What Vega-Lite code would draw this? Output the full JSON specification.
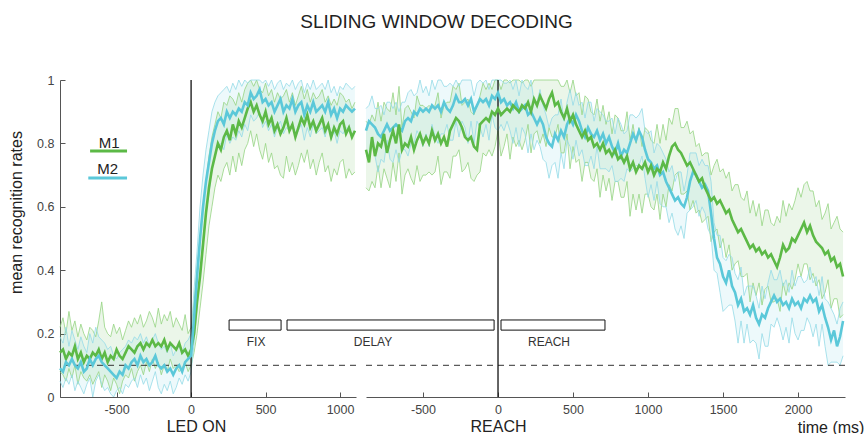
{
"$schema": "https://vega.github.io/schema/vega-lite/v6.json",
"padding": {"left": 8, "top": 13, "right": 5, "bottom": 0},
"title": {"text": "SLIDING WINDOW DECODING", "fontSize": 19, "fontWeight": "normal", "color": "#222222", "font": "Liberation Sans", "offset": 42, "anchor": "middle"},
"config": {
  "font": "Liberation Sans",
  "view": {"stroke": null},
  "axis": {"grid": false, "domainColor": "#555555", "tickColor": "#555555", "labelColor": "#444444", "labelFontSize": 12.5, "titleFontSize": 16, "titleFontWeight": "normal", "titleColor": "#222222", "tickSize": -5, "labelPadding": 11, "domainWidth": 1, "tickWidth": 1}
},
"bounds": "flush",
"spacing": 10,
"resolve": {"scale": {"x": "independent", "y": "independent"}},
"datasets": {
"L": [
{"t":-880,"a":0.14,"al":0.08,"ah":0.22,"b":0.09,"bl":0.05,"bh":0.19},
{"t":-860,"a":0.15,"al":0.07,"ah":0.25,"b":0.08,"bl":0.03,"bh":0.17},
{"t":-840,"a":0.12,"al":0.05,"ah":0.20,"b":0.11,"bl":0.06,"bh":0.22},
{"t":-820,"a":0.14,"al":0.09,"ah":0.27,"b":0.10,"bl":0.04,"bh":0.16},
{"t":-800,"a":0.13,"al":0.06,"ah":0.21,"b":0.12,"bl":0.07,"bh":0.21},
{"t":-780,"a":0.16,"al":0.10,"ah":0.24,"b":0.10,"bl":0.02,"bh":0.18},
{"t":-760,"a":0.12,"al":0.04,"ah":0.19,"b":0.09,"bl":0.05,"bh":0.15},
{"t":-740,"a":0.14,"al":0.08,"ah":0.23,"b":0.11,"bl":0.03,"bh":0.19},
{"t":-720,"a":0.11,"al":0.06,"ah":0.20,"b":0.08,"bl":0.01,"bh":0.16},
{"t":-700,"a":0.13,"al":0.05,"ah":0.18,"b":0.09,"bl":0.04,"bh":0.14},
{"t":-680,"a":0.12,"al":0.07,"ah":0.22,"b":0.12,"bl":0.06,"bh":0.20},
{"t":-660,"a":0.14,"al":0.04,"ah":0.21,"b":0.10,"bl":0.00,"bh":0.17},
{"t":-640,"a":0.13,"al":0.06,"ah":0.19,"b":0.12,"bl":0.05,"bh":0.22},
{"t":-620,"a":0.15,"al":0.08,"ah":0.24,"b":0.13,"bl":0.07,"bh":0.19},
{"t":-600,"a":0.12,"al":0.03,"ah":0.30,"b":0.11,"bl":0.04,"bh":0.18},
{"t":-580,"a":0.14,"al":0.07,"ah":0.22,"b":0.10,"bl":0.02,"bh":0.17},
{"t":-560,"a":0.11,"al":0.05,"ah":0.20,"b":0.09,"bl":0.03,"bh":0.15},
{"t":-540,"a":0.13,"al":0.02,"ah":0.19,"b":0.08,"bl":0.01,"bh":0.16},
{"t":-520,"a":0.12,"al":0.06,"ah":0.23,"b":0.07,"bl":0.00,"bh":0.13},
{"t":-500,"a":0.15,"al":0.04,"ah":0.20,"b":0.06,"bl":0.02,"bh":0.12},
{"t":-480,"a":0.13,"al":0.01,"ah":0.22,"b":0.08,"bl":0.03,"bh":0.14},
{"t":-460,"a":0.12,"al":0.05,"ah":0.18,"b":0.07,"bl":0.01,"bh":0.15},
{"t":-440,"a":0.14,"al":0.07,"ah":0.21,"b":0.10,"bl":0.04,"bh":0.16},
{"t":-420,"a":0.16,"al":0.06,"ah":0.24,"b":0.09,"bl":0.03,"bh":0.18},
{"t":-400,"a":0.15,"al":0.09,"ah":0.22,"b":0.11,"bl":0.05,"bh":0.17},
{"t":-380,"a":0.14,"al":0.05,"ah":0.25,"b":0.12,"bl":0.06,"bh":0.19},
{"t":-360,"a":0.16,"al":0.08,"ah":0.23,"b":0.10,"bl":0.03,"bh":0.18},
{"t":-340,"a":0.17,"al":0.10,"ah":0.26,"b":0.13,"bl":0.07,"bh":0.20},
{"t":-320,"a":0.15,"al":0.07,"ah":0.22,"b":0.11,"bl":0.04,"bh":0.17},
{"t":-300,"a":0.17,"al":0.11,"ah":0.24,"b":0.12,"bl":0.06,"bh":0.19},
{"t":-280,"a":0.16,"al":0.08,"ah":0.27,"b":0.10,"bl":0.02,"bh":0.16},
{"t":-260,"a":0.18,"al":0.12,"ah":0.25,"b":0.11,"bl":0.05,"bh":0.18},
{"t":-240,"a":0.16,"al":0.09,"ah":0.22,"b":0.13,"bl":0.08,"bh":0.20},
{"t":-220,"a":0.17,"al":0.11,"ah":0.28,"b":0.10,"bl":0.03,"bh":0.17},
{"t":-200,"a":0.16,"al":0.07,"ah":0.23,"b":0.09,"bl":0.01,"bh":0.15},
{"t":-180,"a":0.18,"al":0.10,"ah":0.26,"b":0.10,"bl":0.04,"bh":0.16},
{"t":-160,"a":0.15,"al":0.08,"ah":0.24,"b":0.08,"bl":0.02,"bh":0.14},
{"t":-140,"a":0.17,"al":0.12,"ah":0.27,"b":0.09,"bl":0.05,"bh":0.17},
{"t":-120,"a":0.16,"al":0.09,"ah":0.22,"b":0.07,"bl":0.01,"bh":0.13},
{"t":-100,"a":0.15,"al":0.10,"ah":0.25,"b":0.09,"bl":0.03,"bh":0.15},
{"t":-80,"a":0.17,"al":0.08,"ah":0.23,"b":0.10,"bl":0.06,"bh":0.16},
{"t":-60,"a":0.14,"al":0.09,"ah":0.21,"b":0.08,"bl":0.04,"bh":0.14},
{"t":-40,"a":0.15,"al":0.11,"ah":0.26,"b":0.11,"bl":0.07,"bh":0.17},
{"t":-20,"a":0.13,"al":0.08,"ah":0.20,"b":0.12,"bl":0.05,"bh":0.18},
{"t":0,"a":0.15,"al":0.10,"ah":0.22,"b":0.13,"bl":0.08,"bh":0.20},
{"t":20,"a":0.20,"al":0.14,"ah":0.30,"b":0.25,"bl":0.17,"bh":0.34},
{"t":40,"a":0.30,"al":0.20,"ah":0.40,"b":0.38,"bl":0.28,"bh":0.46},
{"t":60,"a":0.38,"al":0.28,"ah":0.50,"b":0.50,"bl":0.40,"bh":0.60},
{"t":80,"a":0.48,"al":0.36,"ah":0.60,"b":0.60,"bl":0.50,"bh":0.70},
{"t":100,"a":0.58,"al":0.45,"ah":0.68,"b":0.68,"bl":0.58,"bh":0.78},
{"t":120,"a":0.66,"al":0.54,"ah":0.76,"b":0.74,"bl":0.64,"bh":0.84},
{"t":140,"a":0.72,"al":0.60,"ah":0.82,"b":0.80,"bl":0.72,"bh":0.90},
{"t":160,"a":0.76,"al":0.66,"ah":0.86,"b":0.84,"bl":0.76,"bh":0.93},
{"t":180,"a":0.80,"al":0.70,"ah":0.90,"b":0.87,"bl":0.79,"bh":0.95},
{"t":200,"a":0.78,"al":0.68,"ah":0.88,"b":0.88,"bl":0.80,"bh":0.96},
{"t":220,"a":0.82,"al":0.72,"ah":0.93,"b":0.86,"bl":0.78,"bh":0.97},
{"t":240,"a":0.84,"al":0.74,"ah":0.92,"b":0.90,"bl":0.83,"bh":0.98},
{"t":260,"a":0.81,"al":0.70,"ah":0.95,"b":0.88,"bl":0.80,"bh":0.96},
{"t":280,"a":0.86,"al":0.76,"ah":0.94,"b":0.90,"bl":0.82,"bh":0.99},
{"t":300,"a":0.83,"al":0.71,"ah":0.92,"b":0.89,"bl":0.81,"bh":0.97},
{"t":320,"a":0.87,"al":0.77,"ah":0.96,"b":0.91,"bl":0.84,"bh":1.0},
{"t":340,"a":0.85,"al":0.73,"ah":0.93,"b":0.90,"bl":0.82,"bh":0.98},
{"t":360,"a":0.88,"al":0.78,"ah":0.97,"b":0.93,"bl":0.86,"bh":1.0},
{"t":380,"a":0.91,"al":0.80,"ah":0.99,"b":0.92,"bl":0.84,"bh":0.99},
{"t":400,"a":0.93,"al":0.84,"ah":1.0,"b":0.96,"bl":0.89,"bh":1.0},
{"t":420,"a":0.90,"al":0.79,"ah":0.98,"b":0.94,"bl":0.87,"bh":1.0},
{"t":440,"a":0.92,"al":0.83,"ah":1.0,"b":0.95,"bl":0.88,"bh":1.0},
{"t":460,"a":0.89,"al":0.78,"ah":0.97,"b":0.97,"bl":0.90,"bh":1.0},
{"t":480,"a":0.87,"al":0.75,"ah":0.96,"b":0.93,"bl":0.85,"bh":0.99},
{"t":500,"a":0.90,"al":0.80,"ah":0.99,"b":0.94,"bl":0.87,"bh":1.0},
{"t":520,"a":0.86,"al":0.74,"ah":0.95,"b":0.92,"bl":0.84,"bh":0.98},
{"t":540,"a":0.88,"al":0.77,"ah":0.97,"b":0.93,"bl":0.86,"bh":1.0},
{"t":560,"a":0.84,"al":0.72,"ah":0.93,"b":0.90,"bl":0.82,"bh":0.97},
{"t":580,"a":0.86,"al":0.73,"ah":0.96,"b":0.92,"bl":0.85,"bh":0.99},
{"t":600,"a":0.83,"al":0.70,"ah":0.94,"b":0.94,"bl":0.87,"bh":1.0},
{"t":620,"a":0.85,"al":0.69,"ah":0.95,"b":0.90,"bl":0.83,"bh":0.97},
{"t":640,"a":0.88,"al":0.76,"ah":0.97,"b":0.92,"bl":0.85,"bh":0.99},
{"t":660,"a":0.84,"al":0.71,"ah":0.93,"b":0.91,"bl":0.84,"bh":0.98},
{"t":680,"a":0.86,"al":0.74,"ah":0.96,"b":0.94,"bl":0.86,"bh":1.0},
{"t":700,"a":0.82,"al":0.70,"ah":0.92,"b":0.90,"bl":0.82,"bh":0.97},
{"t":720,"a":0.85,"al":0.73,"ah":0.95,"b":0.92,"bl":0.84,"bh":0.99},
{"t":740,"a":0.88,"al":0.77,"ah":0.98,"b":0.93,"bl":0.86,"bh":1.0},
{"t":760,"a":0.86,"al":0.74,"ah":0.94,"b":0.89,"bl":0.81,"bh":0.96},
{"t":780,"a":0.89,"al":0.78,"ah":0.97,"b":0.92,"bl":0.85,"bh":0.99},
{"t":800,"a":0.85,"al":0.72,"ah":0.93,"b":0.90,"bl":0.82,"bh":0.97},
{"t":820,"a":0.87,"al":0.75,"ah":0.96,"b":0.93,"bl":0.86,"bh":1.0},
{"t":840,"a":0.84,"al":0.70,"ah":0.94,"b":0.90,"bl":0.83,"bh":0.97},
{"t":860,"a":0.86,"al":0.74,"ah":0.95,"b":0.91,"bl":0.84,"bh":0.98},
{"t":880,"a":0.88,"al":0.77,"ah":0.97,"b":0.92,"bl":0.85,"bh":0.99},
{"t":900,"a":0.84,"al":0.71,"ah":0.93,"b":0.90,"bl":0.82,"bh":0.97},
{"t":920,"a":0.86,"al":0.73,"ah":0.95,"b":0.93,"bl":0.86,"bh":1.0},
{"t":940,"a":0.82,"al":0.68,"ah":0.92,"b":0.89,"bl":0.81,"bh":0.96},
{"t":960,"a":0.85,"al":0.72,"ah":0.94,"b":0.91,"bl":0.84,"bh":0.98},
{"t":980,"a":0.83,"al":0.70,"ah":0.92,"b":0.88,"bl":0.80,"bh":0.95},
{"t":1000,"a":0.86,"al":0.74,"ah":0.96,"b":0.91,"bl":0.84,"bh":0.98},
{"t":1020,"a":0.87,"al":0.75,"ah":0.95,"b":0.90,"bl":0.83,"bh":0.97},
{"t":1040,"a":0.83,"al":0.69,"ah":0.93,"b":0.92,"bl":0.85,"bh":0.99},
{"t":1060,"a":0.85,"al":0.72,"ah":0.94,"b":0.91,"bl":0.84,"bh":0.98},
{"t":1080,"a":0.82,"al":0.70,"ah":0.91,"b":0.90,"bl":0.82,"bh":0.97},
{"t":1100,"a":0.84,"al":0.71,"ah":0.93,"b":0.91,"bl":0.84,"bh":0.98}
],
"R": [
{"t":-880,"a":0.78,"al":0.66,"ah":0.87,"b":0.84,"bl":0.76,"bh":0.91},
{"t":-860,"a":0.74,"al":0.65,"ah":0.86,"b":0.87,"bl":0.76,"bh":0.92},
{"t":-840,"a":0.82,"al":0.68,"ah":0.89,"b":0.86,"bl":0.80,"bh":0.95},
{"t":-820,"a":0.76,"al":0.66,"ah":0.87,"b":0.85,"bl":0.76,"bh":0.91},
{"t":-800,"a":0.80,"al":0.73,"ah":0.93,"b":0.83,"bl":0.71,"bh":0.91},
{"t":-780,"a":0.79,"al":0.66,"ah":0.87,"b":0.82,"bl":0.75,"bh":0.92},
{"t":-760,"a":0.83,"al":0.72,"ah":0.93,"b":0.84,"bl":0.74,"bh":0.89},
{"t":-740,"a":0.77,"al":0.69,"ah":0.91,"b":0.86,"bl":0.81,"bh":0.93},
{"t":-720,"a":0.81,"al":0.66,"ah":0.90,"b":0.84,"bl":0.75,"bh":0.93},
{"t":-700,"a":0.84,"al":0.74,"ah":0.96,"b":0.85,"bl":0.74,"bh":0.91},
{"t":-680,"a":0.80,"al":0.68,"ah":0.89,"b":0.86,"bl":0.78,"bh":0.93},
{"t":-660,"a":0.86,"al":0.77,"ah":0.98,"b":0.85,"bl":0.74,"bh":0.90},
{"t":-640,"a":0.78,"al":0.64,"ah":0.85,"b":0.84,"bl":0.78,"bh":0.93},
{"t":-620,"a":0.80,"al":0.70,"ah":0.91,"b":0.87,"bl":0.78,"bh":0.93},
{"t":-600,"a":0.79,"al":0.72,"ah":0.92,"b":0.88,"bl":0.76,"bh":0.96},
{"t":-580,"a":0.82,"al":0.69,"ah":0.90,"b":0.87,"bl":0.80,"bh":0.97},
{"t":-560,"a":0.78,"al":0.67,"ah":0.88,"b":0.90,"bl":0.80,"bh":0.95},
{"t":-540,"a":0.81,"al":0.73,"ah":0.95,"b":0.89,"bl":0.84,"bh":0.96},
{"t":-520,"a":0.83,"al":0.68,"ah":0.92,"b":0.91,"bl":0.82,"bh":1.0},
{"t":-500,"a":0.80,"al":0.70,"ah":0.92,"b":0.90,"bl":0.79,"bh":0.96},
{"t":-480,"a":0.82,"al":0.70,"ah":0.91,"b":0.91,"bl":0.83,"bh":0.98},
{"t":-460,"a":0.80,"al":0.71,"ah":0.92,"b":0.90,"bl":0.79,"bh":0.95},
{"t":-440,"a":0.84,"al":0.70,"ah":0.91,"b":0.92,"bl":0.86,"bh":1.0},
{"t":-420,"a":0.81,"al":0.71,"ah":0.92,"b":0.91,"bl":0.82,"bh":0.97},
{"t":-400,"a":0.83,"al":0.76,"ah":0.96,"b":0.92,"bl":0.80,"bh":1.0},
{"t":-380,"a":0.80,"al":0.67,"ah":0.88,"b":0.90,"bl":0.83,"bh":1.0},
{"t":-360,"a":0.82,"al":0.71,"ah":0.92,"b":0.93,"bl":0.83,"bh":0.98},
{"t":-340,"a":0.79,"al":0.71,"ah":0.93,"b":0.91,"bl":0.86,"bh":0.98},
{"t":-320,"a":0.84,"al":0.69,"ah":0.93,"b":0.90,"bl":0.81,"bh":0.99},
{"t":-300,"a":0.86,"al":0.76,"ah":0.98,"b":0.92,"bl":0.81,"bh":0.98},
{"t":-280,"a":0.88,"al":0.76,"ah":0.97,"b":0.95,"bl":0.87,"bh":1.0},
{"t":-260,"a":0.87,"al":0.78,"ah":0.99,"b":0.93,"bl":0.82,"bh":0.98},
{"t":-240,"a":0.85,"al":0.71,"ah":0.92,"b":0.93,"bl":0.87,"bh":1.0},
{"t":-220,"a":0.82,"al":0.72,"ah":0.93,"b":0.94,"bl":0.85,"bh":1.0},
{"t":-200,"a":0.81,"al":0.74,"ah":0.94,"b":0.92,"bl":0.80,"bh":1.0},
{"t":-180,"a":0.82,"al":0.69,"ah":0.90,"b":0.94,"bl":0.87,"bh":1.0},
{"t":-160,"a":0.79,"al":0.68,"ah":0.89,"b":0.90,"bl":0.80,"bh":0.95},
{"t":-140,"a":0.78,"al":0.70,"ah":0.92,"b":0.92,"bl":0.87,"bh":0.99},
{"t":-120,"a":0.86,"al":0.71,"ah":0.95,"b":0.94,"bl":0.85,"bh":1.0},
{"t":-100,"a":0.87,"al":0.77,"ah":0.99,"b":0.93,"bl":0.82,"bh":0.99},
{"t":-80,"a":0.88,"al":0.76,"ah":0.97,"b":0.94,"bl":0.86,"bh":1.0},
{"t":-60,"a":0.87,"al":0.78,"ah":0.99,"b":0.92,"bl":0.81,"bh":0.97},
{"t":-40,"a":0.90,"al":0.76,"ah":0.97,"b":0.95,"bl":0.89,"bh":1.0},
{"t":-20,"a":0.89,"al":0.79,"ah":1.0,"b":0.94,"bl":0.85,"bh":1.0},
{"t":0,"a":0.91,"al":0.84,"ah":1.0,"b":0.96,"bl":0.84,"bh":1.0},
{"t":20,"a":0.89,"al":0.76,"ah":0.97,"b":0.93,"bl":0.86,"bh":1.0},
{"t":40,"a":0.90,"al":0.79,"ah":1.0,"b":0.94,"bl":0.84,"bh":0.99},
{"t":60,"a":0.91,"al":0.83,"ah":1.0,"b":0.92,"bl":0.87,"bh":0.99},
{"t":80,"a":0.90,"al":0.75,"ah":0.99,"b":0.93,"bl":0.84,"bh":1.0},
{"t":100,"a":0.92,"al":0.82,"ah":1.0,"b":0.91,"bl":0.80,"bh":0.97},
{"t":120,"a":0.91,"al":0.79,"ah":1.0,"b":0.93,"bl":0.85,"bh":1.0},
{"t":140,"a":0.90,"al":0.81,"ah":1.0,"b":0.90,"bl":0.79,"bh":0.95},
{"t":160,"a":0.92,"al":0.78,"ah":0.99,"b":0.91,"bl":0.85,"bh":1.0},
{"t":180,"a":0.91,"al":0.81,"ah":1.0,"b":0.92,"bl":0.83,"bh":0.98},
{"t":200,"a":0.93,"al":0.86,"ah":1.0,"b":0.89,"bl":0.77,"bh":0.97},
{"t":220,"a":0.90,"al":0.77,"ah":0.98,"b":0.90,"bl":0.83,"bh":1.0},
{"t":240,"a":0.94,"al":0.83,"ah":1.0,"b":0.88,"bl":0.78,"bh":0.93},
{"t":260,"a":0.92,"al":0.84,"ah":1.0,"b":0.86,"bl":0.81,"bh":0.93},
{"t":280,"a":0.95,"al":0.80,"ah":1.0,"b":0.88,"bl":0.79,"bh":0.97},
{"t":300,"a":0.93,"al":0.83,"ah":1.0,"b":0.86,"bl":0.75,"bh":0.92},
{"t":320,"a":0.91,"al":0.79,"ah":1.0,"b":0.82,"bl":0.74,"bh":0.89},
{"t":340,"a":0.94,"al":0.85,"ah":1.0,"b":0.80,"bl":0.69,"bh":0.85},
{"t":360,"a":0.96,"al":0.82,"ah":1.0,"b":0.79,"bl":0.73,"bh":0.88},
{"t":380,"a":0.92,"al":0.82,"ah":1.0,"b":0.83,"bl":0.74,"bh":0.89},
{"t":400,"a":0.93,"al":0.86,"ah":1.0,"b":0.81,"bl":0.69,"bh":0.89},
{"t":420,"a":0.90,"al":0.77,"ah":0.98,"b":0.84,"bl":0.77,"bh":0.94},
{"t":440,"a":0.88,"al":0.77,"ah":0.98,"b":0.82,"bl":0.72,"bh":0.87},
{"t":460,"a":0.91,"al":0.83,"ah":1.0,"b":0.86,"bl":0.81,"bh":0.93},
{"t":480,"a":0.87,"al":0.72,"ah":0.96,"b":0.88,"bl":0.79,"bh":0.97},
{"t":500,"a":0.89,"al":0.79,"ah":1.0,"b":0.86,"bl":0.75,"bh":0.92},
{"t":520,"a":0.86,"al":0.74,"ah":0.95,"b":0.89,"bl":0.81,"bh":0.96},
{"t":540,"a":0.84,"al":0.75,"ah":0.96,"b":0.87,"bl":0.76,"bh":0.92},
{"t":560,"a":0.82,"al":0.68,"ah":0.89,"b":0.84,"bl":0.78,"bh":0.93},
{"t":580,"a":0.84,"al":0.74,"ah":0.95,"b":0.82,"bl":0.73,"bh":0.88},
{"t":600,"a":0.81,"al":0.74,"ah":0.94,"b":0.85,"bl":0.73,"bh":0.93},
{"t":620,"a":0.82,"al":0.69,"ah":0.90,"b":0.83,"bl":0.76,"bh":0.93},
{"t":640,"a":0.79,"al":0.68,"ah":0.89,"b":0.82,"bl":0.72,"bh":0.87},
{"t":660,"a":0.80,"al":0.72,"ah":0.94,"b":0.84,"bl":0.79,"bh":0.91},
{"t":680,"a":0.78,"al":0.63,"ah":0.87,"b":0.81,"bl":0.72,"bh":0.90},
{"t":700,"a":0.80,"al":0.70,"ah":0.92,"b":0.83,"bl":0.72,"bh":0.89},
{"t":720,"a":0.77,"al":0.65,"ah":0.86,"b":0.80,"bl":0.72,"bh":0.87},
{"t":740,"a":0.78,"al":0.69,"ah":0.90,"b":0.82,"bl":0.71,"bh":0.87},
{"t":760,"a":0.76,"al":0.62,"ah":0.83,"b":0.79,"bl":0.73,"bh":0.88},
{"t":780,"a":0.78,"al":0.68,"ah":0.89,"b":0.77,"bl":0.68,"bh":0.83},
{"t":800,"a":0.75,"al":0.68,"ah":0.88,"b":0.80,"bl":0.68,"bh":0.88},
{"t":820,"a":0.76,"al":0.63,"ah":0.84,"b":0.76,"bl":0.69,"bh":0.86},
{"t":840,"a":0.74,"al":0.63,"ah":0.84,"b":0.78,"bl":0.68,"bh":0.83},
{"t":860,"a":0.76,"al":0.68,"ah":0.90,"b":0.77,"bl":0.72,"bh":0.84},
{"t":880,"a":0.72,"al":0.57,"ah":0.81,"b":0.80,"bl":0.71,"bh":0.89},
{"t":900,"a":0.74,"al":0.64,"ah":0.86,"b":0.83,"bl":0.72,"bh":0.89},
{"t":920,"a":0.71,"al":0.59,"ah":0.80,"b":0.81,"bl":0.73,"bh":0.88},
{"t":940,"a":0.73,"al":0.64,"ah":0.85,"b":0.84,"bl":0.73,"bh":0.89},
{"t":960,"a":0.72,"al":0.58,"ah":0.79,"b":0.82,"bl":0.76,"bh":0.91},
{"t":980,"a":0.74,"al":0.64,"ah":0.85,"b":0.78,"bl":0.69,"bh":0.84},
{"t":1000,"a":0.71,"al":0.64,"ah":0.84,"b":0.75,"bl":0.63,"bh":0.83},
{"t":1020,"a":0.73,"al":0.60,"ah":0.81,"b":0.74,"bl":0.67,"bh":0.84},
{"t":1040,"a":0.70,"al":0.59,"ah":0.80,"b":0.72,"bl":0.62,"bh":0.77},
{"t":1060,"a":0.72,"al":0.64,"ah":0.86,"b":0.73,"bl":0.68,"bh":0.80},
{"t":1080,"a":0.71,"al":0.56,"ah":0.80,"b":0.70,"bl":0.61,"bh":0.79},
{"t":1100,"a":0.74,"al":0.64,"ah":0.86,"b":0.71,"bl":0.60,"bh":0.77},
{"t":1120,"a":0.72,"al":0.60,"ah":0.81,"b":0.68,"bl":0.60,"bh":0.75},
{"t":1140,"a":0.76,"al":0.67,"ah":0.88,"b":0.66,"bl":0.55,"bh":0.71},
{"t":1160,"a":0.79,"al":0.65,"ah":0.86,"b":0.64,"bl":0.58,"bh":0.73},
{"t":1180,"a":0.80,"al":0.70,"ah":0.91,"b":0.62,"bl":0.53,"bh":0.68},
{"t":1200,"a":0.78,"al":0.71,"ah":0.91,"b":0.63,"bl":0.51,"bh":0.71},
{"t":1220,"a":0.77,"al":0.64,"ah":0.85,"b":0.61,"bl":0.54,"bh":0.71},
{"t":1240,"a":0.75,"al":0.64,"ah":0.85,"b":0.60,"bl":0.50,"bh":0.65},
{"t":1260,"a":0.73,"al":0.65,"ah":0.87,"b":0.63,"bl":0.58,"bh":0.70},
{"t":1280,"a":0.74,"al":0.59,"ah":0.83,"b":0.68,"bl":0.59,"bh":0.77},
{"t":1300,"a":0.72,"al":0.62,"ah":0.84,"b":0.71,"bl":0.60,"bh":0.77},
{"t":1320,"a":0.70,"al":0.58,"ah":0.79,"b":0.70,"bl":0.62,"bh":0.77},
{"t":1340,"a":0.68,"al":0.59,"ah":0.80,"b":0.68,"bl":0.57,"bh":0.73},
{"t":1360,"a":0.69,"al":0.55,"ah":0.76,"b":0.66,"bl":0.60,"bh":0.75},
{"t":1380,"a":0.66,"al":0.56,"ah":0.77,"b":0.67,"bl":0.58,"bh":0.73},
{"t":1400,"a":0.64,"al":0.57,"ah":0.77,"b":0.65,"bl":0.53,"bh":0.73},
{"t":1420,"a":0.62,"al":0.49,"ah":0.70,"b":0.58,"bl":0.51,"bh":0.68},
{"t":1440,"a":0.63,"al":0.52,"ah":0.73,"b":0.50,"bl":0.40,"bh":0.55},
{"t":1460,"a":0.61,"al":0.53,"ah":0.75,"b":0.44,"bl":0.39,"bh":0.51},
{"t":1480,"a":0.62,"al":0.47,"ah":0.71,"b":0.42,"bl":0.33,"bh":0.51},
{"t":1500,"a":0.60,"al":0.50,"ah":0.72,"b":0.38,"bl":0.27,"bh":0.44},
{"t":1520,"a":0.58,"al":0.44,"ah":0.69,"b":0.36,"bl":0.28,"bh":0.43},
{"t":1540,"a":0.59,"al":0.48,"ah":0.71,"b":0.40,"bl":0.29,"bh":0.45},
{"t":1560,"a":0.56,"al":0.40,"ah":0.65,"b":0.35,"bl":0.29,"bh":0.44},
{"t":1580,"a":0.54,"al":0.42,"ah":0.67,"b":0.33,"bl":0.24,"bh":0.39},
{"t":1600,"a":0.52,"al":0.43,"ah":0.67,"b":0.29,"bl":0.17,"bh":0.37},
{"t":1620,"a":0.53,"al":0.38,"ah":0.63,"b":0.31,"bl":0.24,"bh":0.41},
{"t":1640,"a":0.51,"al":0.38,"ah":0.62,"b":0.27,"bl":0.17,"bh":0.32},
{"t":1660,"a":0.49,"al":0.39,"ah":0.65,"b":0.28,"bl":0.23,"bh":0.35},
{"t":1680,"a":0.47,"al":0.30,"ah":0.58,"b":0.26,"bl":0.17,"bh":0.35},
{"t":1700,"a":0.48,"al":0.36,"ah":0.62,"b":0.29,"bl":0.18,"bh":0.35},
{"t":1720,"a":0.46,"al":0.32,"ah":0.57,"b":0.25,"bl":0.17,"bh":0.32},
{"t":1740,"a":0.47,"al":0.36,"ah":0.61,"b":0.23,"bl":0.12,"bh":0.28},
{"t":1760,"a":0.45,"al":0.29,"ah":0.54,"b":0.26,"bl":0.20,"bh":0.35},
{"t":1780,"a":0.46,"al":0.34,"ah":0.59,"b":0.25,"bl":0.16,"bh":0.31},
{"t":1800,"a":0.44,"al":0.35,"ah":0.59,"b":0.28,"bl":0.16,"bh":0.36},
{"t":1820,"a":0.45,"al":0.30,"ah":0.55,"b":0.30,"bl":0.23,"bh":0.40},
{"t":1840,"a":0.43,"al":0.30,"ah":0.54,"b":0.32,"bl":0.22,"bh":0.37},
{"t":1860,"a":0.41,"al":0.31,"ah":0.57,"b":0.30,"bl":0.25,"bh":0.37},
{"t":1880,"a":0.44,"al":0.27,"ah":0.55,"b":0.31,"bl":0.22,"bh":0.40},
{"t":1900,"a":0.48,"al":0.36,"ah":0.62,"b":0.29,"bl":0.18,"bh":0.35},
{"t":1920,"a":0.46,"al":0.32,"ah":0.57,"b":0.30,"bl":0.22,"bh":0.37},
{"t":1940,"a":0.47,"al":0.36,"ah":0.61,"b":0.28,"bl":0.17,"bh":0.33},
{"t":1960,"a":0.50,"al":0.34,"ah":0.59,"b":0.31,"bl":0.25,"bh":0.40},
{"t":1980,"a":0.49,"al":0.37,"ah":0.62,"b":0.29,"bl":0.20,"bh":0.35},
{"t":2000,"a":0.51,"al":0.42,"ah":0.66,"b":0.30,"bl":0.18,"bh":0.38},
{"t":2020,"a":0.53,"al":0.38,"ah":0.63,"b":0.28,"bl":0.21,"bh":0.38},
{"t":2040,"a":0.55,"al":0.42,"ah":0.67,"b":0.31,"bl":0.21,"bh":0.36},
{"t":2060,"a":0.52,"al":0.42,"ah":0.68,"b":0.30,"bl":0.25,"bh":0.37},
{"t":2080,"a":0.54,"al":0.37,"ah":0.65,"b":0.32,"bl":0.23,"bh":0.41},
{"t":2100,"a":0.51,"al":0.39,"ah":0.65,"b":0.30,"bl":0.19,"bh":0.36},
{"t":2120,"a":0.49,"al":0.35,"ah":0.60,"b":0.31,"bl":0.23,"bh":0.38},
{"t":2140,"a":0.48,"al":0.37,"ah":0.62,"b":0.27,"bl":0.16,"bh":0.32},
{"t":2160,"a":0.47,"al":0.31,"ah":0.56,"b":0.29,"bl":0.23,"bh":0.38},
{"t":2180,"a":0.45,"al":0.33,"ah":0.58,"b":0.25,"bl":0.16,"bh":0.31},
{"t":2200,"a":0.46,"al":0.37,"ah":0.61,"b":0.22,"bl":0.10,"bh":0.30},
{"t":2220,"a":0.43,"al":0.28,"ah":0.53,"b":0.18,"bl":0.11,"bh":0.28},
{"t":2240,"a":0.44,"al":0.31,"ah":0.55,"b":0.21,"bl":0.11,"bh":0.26},
{"t":2260,"a":0.41,"al":0.31,"ah":0.57,"b":0.16,"bl":0.11,"bh":0.23},
{"t":2280,"a":0.42,"al":0.25,"ah":0.53,"b":0.19,"bl":0.10,"bh":0.28},
{"t":2300,"a":0.38,"al":0.26,"ah":0.52,"b":0.24,"bl":0.13,"bh":0.30}
],
"EL": [
{"ev":"FIX","start":255,"end":604,"lx":436},
{"ev":"DELAY","start":644,"end":2034,"lx":1221}
],
"ER": [
{"ev":"REACH","start":20,"end":713,"lx":340}
]
},
"hconcat": [
{
"width": 296, "height": 317,
"encoding": {
  "x": {"type": "quantitative", "scale": {"domain": [-880, 1107], "nice": false, "zero": false},
        "axis": {"values": [-500, 0, 500, 1000], "labelExpr": "replace(format(datum.value, 'd'), '\u2212', '-')", "title": "LED ON", "titleX": 136, "titlePadding": 3}},
  "y": {"type": "quantitative", "scale": {"domain": [0, 1], "nice": false},
        "axis": {"values": [0, 0.2, 0.4, 0.6, 0.8, 1], "format": "~g", "title": "mean recognition rates", "titleY": 132, "titlePadding": 12}}
},
"layer": [
{"data": {"name": "L"}, "mark": {"type": "area", "color": "#5cb946", "opacity": 0.12},
 "encoding": {"x": {"field": "t"}, "y": {"field": "al"}, "y2": {"field": "ah"}}},
{"data": {"name": "L"}, "mark": {"type": "area", "color": "#5bc8d9", "opacity": 0.11},
 "encoding": {"x": {"field": "t"}, "y": {"field": "bl"}, "y2": {"field": "bh"}}},
{"data": {"name": "L"}, "mark": {"type": "line", "color": "#95d483", "strokeWidth": 0.8},
 "encoding": {"x": {"field": "t"}, "y": {"field": "al"}}},
{"data": {"name": "L"}, "mark": {"type": "line", "color": "#95d483", "strokeWidth": 0.8},
 "encoding": {"x": {"field": "t"}, "y": {"field": "ah"}}},
{"data": {"name": "L"}, "mark": {"type": "line", "color": "#94dbe7", "strokeWidth": 0.8},
 "encoding": {"x": {"field": "t"}, "y": {"field": "bl"}}},
{"data": {"name": "L"}, "mark": {"type": "line", "color": "#94dbe7", "strokeWidth": 0.8},
 "encoding": {"x": {"field": "t"}, "y": {"field": "bh"}}},
{"data": {"values": [{}]}, "mark": {"type": "rule", "color": "#333333", "strokeWidth": 1, "strokeDash": [6, 5]},
 "encoding": {"x": null, "y": {"datum": 0.1}}},
{"data": {"values": [{}]}, "mark": {"type": "rule", "color": "#111111", "strokeWidth": 1.3},
 "encoding": {"x": {"datum": 0}, "y": null}},
{"data": {"name": "L"}, "mark": {"type": "line", "color": "#5cb946", "strokeWidth": 2.6},
 "encoding": {"x": {"field": "t"}, "y": {"field": "a"}}},
{"data": {"name": "L"}, "mark": {"type": "line", "color": "#5bc8d9", "strokeWidth": 2.6},
 "encoding": {"x": {"field": "t"}, "y": {"field": "b"}}},
{"data": {"name": "EL"}, "mark": {"type": "rect", "fill": "white", "stroke": "#111111", "strokeWidth": 1, "clip": false},
 "encoding": {"x": {"field": "start"}, "x2": {"field": "end"}, "y": {"datum": 0.211}, "y2": {"datum": 0.243}}},
{"data": {"name": "EL"}, "mark": {"type": "text", "fontSize": 12, "color": "#333333", "clip": false},
 "encoding": {"x": {"field": "lx"}, "y": {"datum": 0.173}, "text": {"field": "ev"}}},
{"data": {"values": [{}]}, "mark": {"type": "rule", "color": "#5cb946", "strokeWidth": 3},
 "encoding": {"x": {"datum": -678}, "x2": {"datum": -430}, "y": {"datum": 0.776}}},
{"data": {"values": [{}]}, "mark": {"type": "rule", "color": "#5bc8d9", "strokeWidth": 3},
 "encoding": {"x": {"datum": -690}, "x2": {"datum": -430}, "y": {"datum": 0.691}}},
{"data": {"values": [{}]}, "mark": {"type": "text", "fontSize": 15, "color": "#222222"},
 "encoding": {"x": {"datum": -550}, "y": {"datum": 0.80}, "text": {"value": "M1"}}},
{"data": {"values": [{}]}, "mark": {"type": "text", "fontSize": 15, "color": "#222222"},
 "encoding": {"x": {"datum": -560}, "y": {"datum": 0.719}, "text": {"value": "M2"}}}
]
},
{
"width": 479, "height": 317,
"encoding": {
  "x": {"type": "quantitative", "scale": {"domain": [-880, 2313], "nice": false, "zero": false},
        "axis": {"values": [-500, 0, 500, 1000, 1500, 2000], "labelExpr": "replace(format(datum.value, 'd'), '\u2212', '-')", "title": "REACH", "titleX": 132, "titlePadding": 3}},
  "y": {"type": "quantitative", "scale": {"domain": [0, 1], "nice": false}, "axis": null}
},
"layer": [
{"data": {"name": "R"}, "mark": {"type": "area", "color": "#5cb946", "opacity": 0.12},
 "encoding": {"x": {"field": "t"}, "y": {"field": "al"}, "y2": {"field": "ah"}}},
{"data": {"name": "R"}, "mark": {"type": "area", "color": "#5bc8d9", "opacity": 0.11},
 "encoding": {"x": {"field": "t"}, "y": {"field": "bl"}, "y2": {"field": "bh"}}},
{"data": {"name": "R"}, "mark": {"type": "line", "color": "#95d483", "strokeWidth": 0.8},
 "encoding": {"x": {"field": "t"}, "y": {"field": "al"}}},
{"data": {"name": "R"}, "mark": {"type": "line", "color": "#95d483", "strokeWidth": 0.8},
 "encoding": {"x": {"field": "t"}, "y": {"field": "ah"}}},
{"data": {"name": "R"}, "mark": {"type": "line", "color": "#94dbe7", "strokeWidth": 0.8},
 "encoding": {"x": {"field": "t"}, "y": {"field": "bl"}}},
{"data": {"name": "R"}, "mark": {"type": "line", "color": "#94dbe7", "strokeWidth": 0.8},
 "encoding": {"x": {"field": "t"}, "y": {"field": "bh"}}},
{"data": {"values": [{}]}, "mark": {"type": "rule", "color": "#333333", "strokeWidth": 1, "strokeDash": [6, 5]},
 "encoding": {"x": null, "y": {"datum": 0.1}}},
{"data": {"values": [{}]}, "mark": {"type": "rule", "color": "#111111", "strokeWidth": 1.3},
 "encoding": {"x": {"datum": 0}, "y": null}},
{"data": {"name": "R"}, "mark": {"type": "line", "color": "#5bc8d9", "strokeWidth": 2.6},
 "encoding": {"x": {"field": "t"}, "y": {"field": "b"}}},
{"data": {"name": "R"}, "mark": {"type": "line", "color": "#5cb946", "strokeWidth": 2.6},
 "encoding": {"x": {"field": "t"}, "y": {"field": "a"}}},
{"data": {"name": "ER"}, "mark": {"type": "rect", "fill": "white", "stroke": "#111111", "strokeWidth": 1, "clip": false},
 "encoding": {"x": {"field": "start"}, "x2": {"field": "end"}, "y": {"datum": 0.211}, "y2": {"datum": 0.243}}},
{"data": {"name": "ER"}, "mark": {"type": "text", "fontSize": 12, "color": "#333333", "clip": false},
 "encoding": {"x": {"field": "lx"}, "y": {"datum": 0.173}, "text": {"field": "ev"}}},
{"data": {"values": [{}]}, "mark": {"type": "text", "fontSize": 16, "color": "#222222", "clip": false},
 "encoding": {"x": {"datum": 2220}, "y": {"datum": -0.097}, "text": {"value": "time (ms)"}}}
]
}
]
}
